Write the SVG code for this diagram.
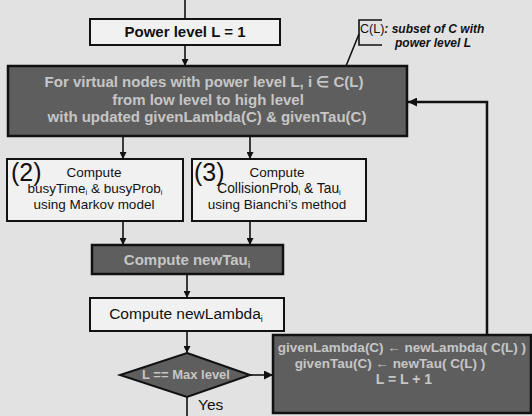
<svg xmlns="http://www.w3.org/2000/svg" width="532" height="416" viewBox="0 0 532 416">
<defs>
<marker id="ah" viewBox="0 0 10 10" refX="10" refY="5" markerWidth="7" markerHeight="7" markerUnits="userSpaceOnUse" orient="auto">
<path d="M0,0 L10,5 L0,10 z" fill="#111"/>
</marker>
<marker id="ahb" viewBox="0 0 10 10" refX="10" refY="5" markerWidth="10" markerHeight="9" markerUnits="userSpaceOnUse" orient="auto">
<path d="M0,0 L10,5 L0,10 z" fill="#111"/>
</marker>
</defs>
<style>
.t{font-family:"Liberation Sans",Arial,sans-serif;fill:#111}
.wbox{fill:#f1f1f1;stroke:#111;stroke-width:2}
.dbox{fill:#5e5e5e;stroke:#111;stroke-width:2.5}
.lt{font-family:"Liberation Sans",Arial,sans-serif;fill:#c6c6c6;font-weight:bold}
.c{stroke:#111;stroke-width:1.6;fill:none}
.cb{stroke:#111;stroke-width:2.5;fill:none}
</style>
<rect x="0" y="0" width="532" height="416" fill="#e2e2e2"/>

<g id="connectors">
<line class="c" x1="185" y1="0" x2="185" y2="19"/>
<line class="c" x1="185" y1="45" x2="185" y2="66" marker-end="url(#ah)"/>
<line class="c" x1="123" y1="136" x2="123" y2="159" marker-end="url(#ah)"/>
<line class="c" x1="250" y1="136" x2="250" y2="159" marker-end="url(#ah)"/>
<line class="c" x1="123" y1="221" x2="123" y2="245" marker-end="url(#ah)"/>
<line class="c" x1="250" y1="221" x2="250" y2="245" marker-end="url(#ah)"/>
<line class="c" x1="187" y1="274" x2="187" y2="298" marker-end="url(#ah)"/>
<line class="c" x1="187" y1="331" x2="187" y2="353" marker-end="url(#ah)"/>
<line class="c" x1="187" y1="397" x2="187" y2="416"/>
<line class="c" x1="250" y1="375" x2="273" y2="375" marker-end="url(#ahb)"/>
<polyline class="cb" points="487,335 487,102 408,102" marker-end="url(#ahb)"/>
<polyline class="c" points="382,20 359,20 359,45 382,45"/>
<line class="c" x1="359" y1="34" x2="346" y2="66"/>
</g>

<g id="note">
<text class="t" x="360" y="33" font-size="12.5"><tspan>C(L)</tspan><tspan font-style="italic" font-weight="bold" font-size="12">: subset of C with</tspan></text>
<text class="t" x="395" y="47" font-size="12" font-style="italic" font-weight="bold">power level L</text>
</g>

<g id="power">
<rect class="wbox" x="90" y="19" width="190" height="26"/>
<text class="t" x="185" y="37" font-size="15" font-weight="bold" text-anchor="middle">Power level L = 1</text>
</g>

<g id="loop">
<rect class="dbox" x="8" y="66" width="399" height="70"/>
<text class="lt" x="204" y="87" font-size="15" text-anchor="middle">For virtual nodes with power level L, i ∈ C(L)</text>
<text class="lt" x="208" y="105" font-size="15" text-anchor="middle">from low level to high level</text>
<text class="lt" x="207" y="122" font-size="15" text-anchor="middle">with updated givenLambda(C)  &amp; givenTau(C)</text>
</g>

<g id="busy">
<rect class="wbox" x="7" y="159" width="176" height="62"/>
<text class="t" x="11" y="181" font-size="25">(2)</text>
<text class="t" x="94" y="177" font-size="13.5" text-anchor="middle">Compute</text>
<text class="t" x="95" y="193" font-size="13.5" text-anchor="middle">busyTime<tspan font-size="7.5" dy="1.5">i</tspan><tspan dy="-1.5"> &amp; busyProb</tspan><tspan font-size="7.5" dy="1.5">i</tspan></text>
<text class="t" x="94" y="209" font-size="13.5" text-anchor="middle">using Markov model</text>
</g>

<g id="collision">
<rect class="wbox" x="192" y="159" width="174" height="62"/>
<text class="t" x="194" y="181" font-size="25">(3)</text>
<text class="t" x="277" y="177" font-size="13.5" text-anchor="middle">Compute</text>
<text class="t" x="279" y="193" font-size="13.8" text-anchor="middle">CollisionProb<tspan font-size="7.5" dy="1.5">i</tspan><tspan dy="-1.5"> &amp; Tau</tspan><tspan font-size="7.5" dy="1.5">i</tspan></text>
<text class="t" x="277" y="209" font-size="13.5" text-anchor="middle">using Bianchi’s method</text>
</g>

<g id="newtau">
<rect class="dbox" x="92" y="245" width="191" height="29"/>
<text class="lt" x="187" y="265" font-size="15" text-anchor="middle">Compute newTau<tspan font-size="9" dy="3">i</tspan></text>
</g>

<g id="newlambda">
<rect class="wbox" x="90" y="298" width="194" height="33"/>
<text class="t" x="186" y="319" font-size="15.5" text-anchor="middle">Compute newLambda<tspan font-size="9" dy="3">i</tspan></text>
</g>

<g id="decision">
<polygon points="187,353 250,375 187,397 120,375" fill="#5e5e5e" stroke="#111" stroke-width="2"/>
<text class="lt" x="186" y="379" font-size="13" text-anchor="middle">L == Max level</text>
<text class="t" x="198" y="410" font-size="15.5">Yes</text>
</g>

<g id="update">
<rect class="dbox" x="273" y="335" width="258" height="78"/>
<text class="lt" x="402" y="352" font-size="13.5" text-anchor="middle">givenLambda(C) ← newLambda( C(L) )</text>
<text class="lt" x="390" y="368" font-size="13.5" text-anchor="middle">givenTau(C) ← newTau( C(L) )</text>
<text class="lt" x="404" y="384" font-size="14" text-anchor="middle">L = L + 1</text>
</g>
</svg>
